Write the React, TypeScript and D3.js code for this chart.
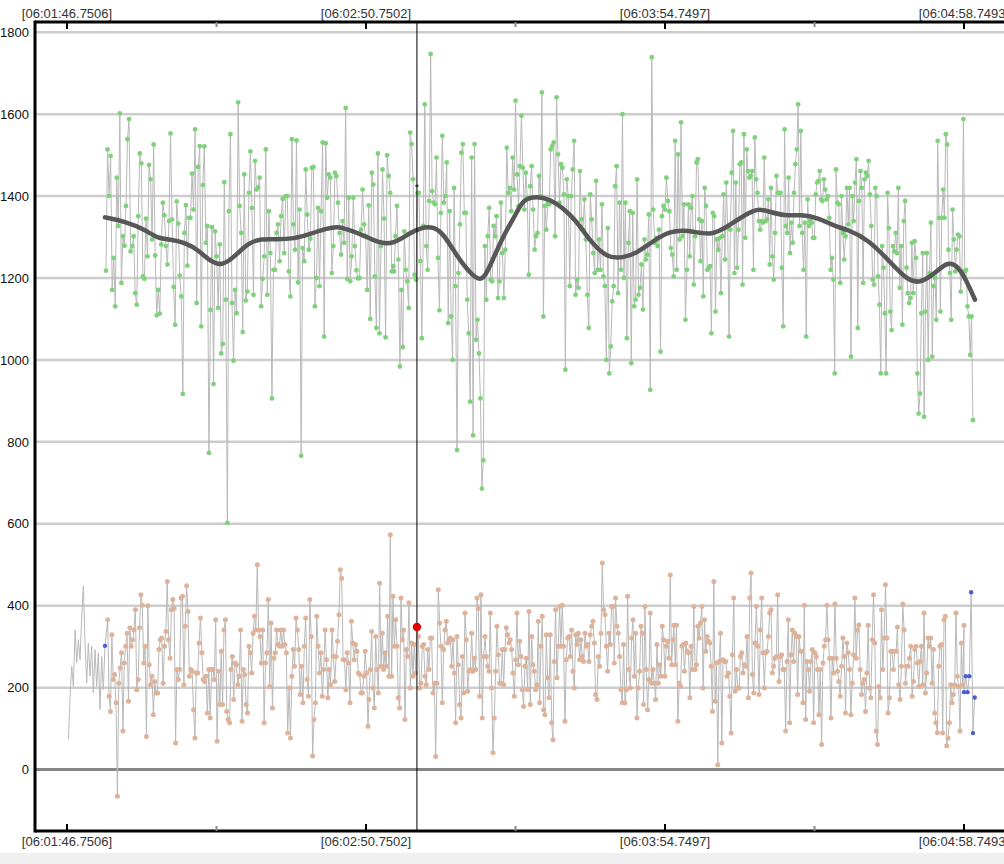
import React from 'react';
import * as d3 from 'd3';

// ---- axis data ----
const MAJOR_TICKS = [0, 64, 128, 192]; // seconds after 06:01:46.7506
const MINOR_TICKS = [32, 96, 160];
const TICK_LABELS = ['[06:01:46.7506]', '[06:02:50.7502]', '[06:03:54.7497]', '[06:04:58.7493]'];
const Y_TICKS = [0, 200, 400, 600, 800, 1000, 1200, 1400, 1600, 1800];
const CURSOR_T = 74.9;
const CURSOR_BOTTOM_VALUE = 348;
const CURSOR_TOP_VALUE = 1425;

// ---- upper series (green) ----
const topSeg1Span = [8.35, 69.84];
const topSeg1 = [1218,1514,1400,1498,1171,1249,1131,1445,1327,1602,1188,1302,1279,1376,1539,1588,1265,1278,1302,1163,1135,1351,1504,1480,1204,1198,1345,1253,1476,1441,1294,1526,1255,1109,1171,1113,1282,1384,1353,1278,1233,1339,1553,1343,1178,1086,1387,1333,1206,1155,917,1310,1378,1230,1347,1347,1455,1367,1563,1139,1471,1522,1082,1427,1521,1286,1327,773,1122,1324,941,1314,1253,1127,1282,1016,1039,1434,1147,602,1363,1551,1139,998,1171,1114,1629,1376,1310,1068,1453,1145,1167,1408,1509,1371,1159,1486,1416,1421,1445,1131,1198,1253,1514,1159,1363,1261,906,1220,1220,1310,1331,1241,1351,1393,1261,1400,1400,1216,1155,1539,1331,1269,1536,1189,1367,766,1273,1241,1465,1355,1269,1296,1469,1471,1131,1200,1371,1180,1363,1531,1057,1529,1396,1453,1445,1212,1278,1457,1449,1384,1310,1257,1339,1286,1615,1198,1396,1192,1253,1396,1278,1219,1199,1200,1318,1416,1331,1302,1171,1377,1100,1457,1428,1204,1078,1504,1065,1278,1465,1345,1055,1500,1449,1408,1216,1229];
const topSeg2Span = [70.0, 133.0];
const topSeg2 = [1216,1302,1376,1245,984,1171,1031,1314,1220,1192,1127,1555,1527,1441,1208,1196,1408,1408,1241,1053,1327,1624,1278,1220,1388,1747,1412,1384,1380,1494,1249,1121,1359,1547,1384,1400,1482,1090,1363,1106,1000,1420,1180,780,1212,1331,1506,1527,1359,1359,1147,1065,898,1494,816,1527,1049,1098,1016,906,686,755,1278,1147,1302,1371,1196,1192,1327,1302,1351,1151,1192,1384,1261,1151,1269,1518,1408,1420,1363,1494,1416,1633,1453,1376,1473,1596,1469,1367,1457,1396,1208,1424,1473,1367,1269,1302,1310,1449,1400,1653,1106,1376,1318,1384,1380,1514,1522,1531,1302,1641,1502,1384,1478,1469,1404,976,1441,1400,1180,1400,1465,1535,1159,1196,1176,1461,1343,1318,1392,1294,1159,1078,1404,1343,1261,1212,1437,1220,1294,1220,1380,1204,1180,1000,1322,967,1033,1143,1180,1424,1473,1163,1384,1220,1600,1200,1384,1053,1286,1363,992,1359,1131,1147,1441,1159,1176,1233,1123,1294,1245,1257,1355,927,1739,1367,1286,1298,1278,1318,1020,1351,1376,1367,1445,1388,1363,1273,1257,1204,1535,1220,1502,1294,1580,1302,1380,1098,1220,1380];
const topSeg3Span = [133.3, 193.9];
const topSeg3 = [1253,1371,1400,1184,1302,1482,1490,1343,1241,1339,1155,1420,1376,1220,1225,1229,1065,1359,1351,1118,1294,1269,1298,1163,1302,1404,1245,1433,1322,1057,1318,1457,1559,1212,1433,1225,1318,1478,1482,1184,1551,1298,1514,1461,1445,1449,1461,1220,1543,1441,1408,1339,1318,1339,1335,1494,1339,1343,1392,1233,1420,1253,1196,1310,1449,1408,1408,1408,1225,1082,1563,1327,1310,1445,1261,1335,1286,1408,1478,1514,1624,1327,1559,1310,1220,1335,1057,1392,1327,1339,1335,1298,1298,1404,1433,1437,1461,1392,1388,1441,1416,1392,1400,1347,1220,1249,1196,967,1465,1384,1380,1188,1400,1310,1245,1302,1420,1331,1420,1008,1400,1339,1433,1490,1078,1388,1461,1420,1188,1441,1457,1449,1486,1404,1327,1196,1184,1420,1400,1204,1135,967,1278,1225,1114,967,1408,1322,1118,1073,1278,1265,1310,1261,1420,1176,1278,1086,1339,1388,1225,1163,1139,1151,1286,1163,1290,1249,967,869,918,1114,1261,861,1118,1261,1000,1212,1335,1008,1180,1200,1098,1535,1347,1118,1347,1416,1347,1551,1526,1269,1212,1098,1367,1294,1216,1269,1306,1302,1167,1216,1588,1216,1220,1131,1106,1012,1106,853];

// ---- smoothed trend of the upper series ----
const smoothT = [8.13,12.41,16.70,19.48,22.47,25.26,28.04,30.61,33.18,35.96,38.74,41.74,44.52,48.80,51.58,55.86,58.00,60.15,63.14,66.57,69.78,73.42,75.56,78.34,80.48,83.48,86.26,88.83,90.54,93.32,96.32,97.60,100.60,103.38,106.16,109.16,111.94,115.58,119.01,122.00,125.43,128.85,132.92,137.84,141.48,147.26,150.04,153.68,157.11,160.75,164.38,167.17,171.45,175.73,180.01,182.79,185.79,188.57,190.71,192.42,194.35];
const smoothV = [1348,1338,1318,1296,1294,1286,1269,1241,1229,1253,1286,1296,1294,1296,1306,1322,1326,1318,1306,1286,1282,1310,1322,1326,1310,1253,1212,1188,1229,1302,1360,1392,1400,1392,1371,1338,1290,1249,1249,1261,1290,1314,1318,1302,1326,1372,1363,1351,1355,1347,1326,1318,1294,1245,1192,1188,1212,1241,1229,1196,1147];

// ---- lower series ----
const bottomLeadSpan = [0.3, 8.13]; // last value has a blue marker, the others none
const bottomLead = [73,179,252,203,341,260,317,268,374,449,309,211,309,228,301,187,293,203,285,146,276,195,302];
const bottomSeg1Span = [8.71, 64.43];
const bottomSeg1 = [366,179,142,329,220,232,163,-65,211,248,285,94,260,301,333,167,346,301,317,341,390,195,220,346,427,401,260,301,81,400,256,207,228,134,215,187,187,293,317,321,211,301,337,459,317,272,390,415,394,65,244,220,244,419,423,207,350,449,386,228,244,240,146,77,236,236,309,370,285,220,215,228,138,244,126,244,244,220,366,69,240,159,289,159,341,366,142,122,114,244,276,171,260,256,207,228,341,118,244,232,159,138,301,285,236,333,374,341,500,341,325,260,341,114,260,285,415,203,358,150,272,285,341,305,301,341,301,341,305,285,89,199,77,228,293,252,370,341,293,183,252,163,301,370,220,179,415,325,33,122,163,374,301,236,285,179,244,341,268,175,244,207,341,276,215,276,313,378,488,467,268,268,195,285,260,163,362,309,268,305,289,236,232,187,187,228,289,236,106];
const bottomSeg2Span = [64.64, 129.7];
const bottomSeg2 = [171,244,337,199,150,325,244,187,455,252,333,244,285,252,374,228,573,228,423,301,366,301,175,150,419,317,341,122,293,276,407,199,309,228,305,236,348,325,199,211,301,305,228,207,293,244,321,321,187,211,32,211,439,358,301,163,293,341,362,309,317,321,252,317,236,114,325,256,159,126,276,187,382,317,191,240,244,333,240,272,244,419,394,179,427,126,276,325,276,252,240,382,199,41,126,240,350,280,211,211,293,207,293,346,329,309,317,293,236,179,268,382,256,313,276,195,154,252,272,195,386,159,325,256,240,195,207,362,163,301,374,146,134,329,224,175,329,114,73,264,390,224,301,398,301,401,301,118,268,321,325,276,341,240,199,329,305,333,268,317,276,264,333,301,305,264,329,350,362,309,183,171,276,252,333,504,390,378,301,240,333,305,398,398,260,419,350,333,276,195,163,305,163,195,423,244,199,321,366,228,333,126,199,240,350,333,159,398,244,146,220,382,211,244,211,171,305,211,256,228,350,317,228,301,313,272,475,256,317];
const bottomSeg3Span = [129.9, 192.0];
const bottomSeg3 = [352,256,352,118,211,203,301,305,240,309,289,285,175,301,244,398,244,256,350,321,358,398,199,366,289,325,313,309,252,142,459,167,260,12,264,333,65,268,264,264,228,236,179,89,280,419,191,244,199,199,276,285,236,256,252,325,175,419,480,232,187,309,398,301,183,341,419,285,199,285,289,325,382,390,236,252,272,276,427,215,276,280,244,244,94,264,366,114,280,341,264,333,325,183,325,289,289,163,401,122,264,244,191,264,293,114,285,276,244,134,244,61,260,301,317,401,317,272,126,272,236,404,272,240,215,179,252,321,276,138,309,285,244,134,211,280,419,272,341,353,244,183,211,220,142,236,352,199,175,317,427,309,94,61,203,175,390,244,321,451,321,138,175,289,289,244,289,289,348,207,171,252,404,341,211,252,252,272,301,179,215,293,301,260,203,264,301,207,382,187,236,321,301,321,211,293,138,114,90,252,301,305,89,366,374,58,77,114,207,163,183,207,382,228,203,94,309,207,352];
const bottomTailSpan = [192.0, 194.3]; // highlighted in blue
const bottomTail = [189,228,189,228,433,89,176];

type Pt = { t: number; v: number; kind: string };

function spread(values: number[], span: number[], kind: string): Pt[] {
  const n = values.length;
  return values.map((v, i) => ({ t: span[0] + ((span[1] - span[0]) * i) / (n - 1), v, kind }));
}

const W = 1004;
const H = 864;
const LEFT = 35;
const TOP = 22;
const BOTTOM = 831;

export default function App() {
  const x = d3.scaleLinear().domain([0, 192]).range([67, 964]);
  const y = d3.scaleLinear().domain([-150, 1825]).range([BOTTOM, TOP]);

  const topPts: Pt[] = [
    ...spread(topSeg1, topSeg1Span, 'g'),
    ...spread(topSeg2, topSeg2Span, 'g'),
    ...spread(topSeg3, topSeg3Span, 'g'),
  ];
  const leadPts = spread(bottomLead, bottomLeadSpan, 'none');
  leadPts[leadPts.length - 1].kind = 'blue';
  const bottomPts: Pt[] = [
    ...leadPts,
    ...spread(bottomSeg1, bottomSeg1Span, 'o'),
    ...spread(bottomSeg2, bottomSeg2Span, 'o'),
    ...spread(bottomSeg3, bottomSeg3Span, 'o'),
    ...spread(bottomTail, bottomTailSpan, 'blue'),
  ];

  const line = d3.line<Pt>().x((d) => x(d.t)).y((d) => y(d.v));
  const smoothPts = smoothT.map((t, i) => [x(t), y(smoothV[i])] as [number, number]);
  const smoothLine = d3.line().curve(d3.curveBasis)(smoothPts) || '';

  const font = '"Liberation Sans", Arial, sans-serif';

  return (
    <svg width={W} height={H} style={{ position: 'absolute', left: 0, top: 0, background: '#fff' }}>
      <rect x={0} y={0} width={W} height={H} fill="#fff" />
      <rect x={0} y={853} width={W} height={H - 853} fill="#f0f0f0" />

      {/* grid */}
      {Y_TICKS.map((v) => (
        <line key={'g' + v} x1={LEFT} x2={W} y1={y(v)} y2={y(v)}
          stroke={v === 0 ? '#858585' : '#cdcdcd'} strokeWidth={v === 0 ? 3 : 2.5} />
      ))}
      {Y_TICKS.map((v) => (
        <text key={'yl' + v} x={29} y={y(v)} dy="0.36em" textAnchor="end" fontSize={13} fontFamily={font} fill="#111">{v}</text>
      ))}

      {/* connecting lines */}
      <path d={line(bottomPts) || ''} fill="none" stroke="#b9b9b9" strokeWidth={1} />
      <path d={line(topPts) || ''} fill="none" stroke="#b9b9b9" strokeWidth={1} />

      {/* markers */}
      {bottomPts.filter((d) => d.kind === 'o').map((d, i) => (
        <circle key={'bo' + i} cx={x(d.t)} cy={y(d.v)} r={2.5} fill="#ddb39c" />
      ))}
      {bottomPts.filter((d) => d.kind === 'blue').map((d, i) => (
        <circle key={'bb' + i} cx={x(d.t)} cy={y(d.v)} r={2.2} fill="#4b5bd6" />
      ))}
      {topPts.map((d, i) => (
        <circle key={'tp' + i} cx={x(d.t)} cy={y(d.v)} r={2.4} fill="#7fd27b" />
      ))}

      {/* smoothed trend */}
      <path d={smoothLine} fill="none" stroke="#575757" strokeWidth={4.5} strokeLinecap="round" strokeLinejoin="round" />

      {/* cursor */}
      <line x1={x(CURSOR_T)} x2={x(CURSOR_T)} y1={TOP} y2={BOTTOM} stroke="#000" strokeWidth={1} />
      <circle cx={x(CURSOR_T)} cy={y(CURSOR_TOP_VALUE)} r={1.6} fill="#333" />
      <circle cx={x(CURSOR_T)} cy={y(CURSOR_BOTTOM_VALUE)} r={4.2} fill="#e00000" />

      {/* frame */}
      <line x1={LEFT} x2={W} y1={TOP} y2={TOP} stroke="#000" strokeWidth={3} />
      <line x1={LEFT} x2={W} y1={BOTTOM} y2={BOTTOM} stroke="#000" strokeWidth={3} />
      <line x1={LEFT} x2={LEFT} y1={TOP - 1.5} y2={BOTTOM + 1.5} stroke="#000" strokeWidth={3} />

      {/* ticks */}
      {MAJOR_TICKS.map((t) => (
        <g key={'mt' + t}>
          <line x1={x(t)} x2={x(t)} y1={TOP} y2={TOP + 7} stroke="#000" strokeWidth={2} />
          <line x1={x(t)} x2={x(t)} y1={BOTTOM} y2={BOTTOM - 7} stroke="#000" strokeWidth={2} />
        </g>
      ))}
      {MINOR_TICKS.map((t) => (
        <g key={'nt' + t}>
          <line x1={x(t)} x2={x(t)} y1={TOP} y2={TOP + 5} stroke="#888" strokeWidth={2} />
          <line x1={x(t)} x2={x(t)} y1={BOTTOM} y2={BOTTOM - 5} stroke="#888" strokeWidth={2} />
        </g>
      ))}
      {MAJOR_TICKS.map((t, i) => (
        <g key={'lab' + t}>
          <text x={x(t)} y={17.5} textAnchor="middle" fontSize={13} fontFamily={font} fill="#333">{TICK_LABELS[i]}</text>
          <text x={x(t)} y={846} textAnchor="middle" fontSize={13} fontFamily={font} fill="#333">{TICK_LABELS[i]}</text>
        </g>
      ))}
    </svg>
  );
}
